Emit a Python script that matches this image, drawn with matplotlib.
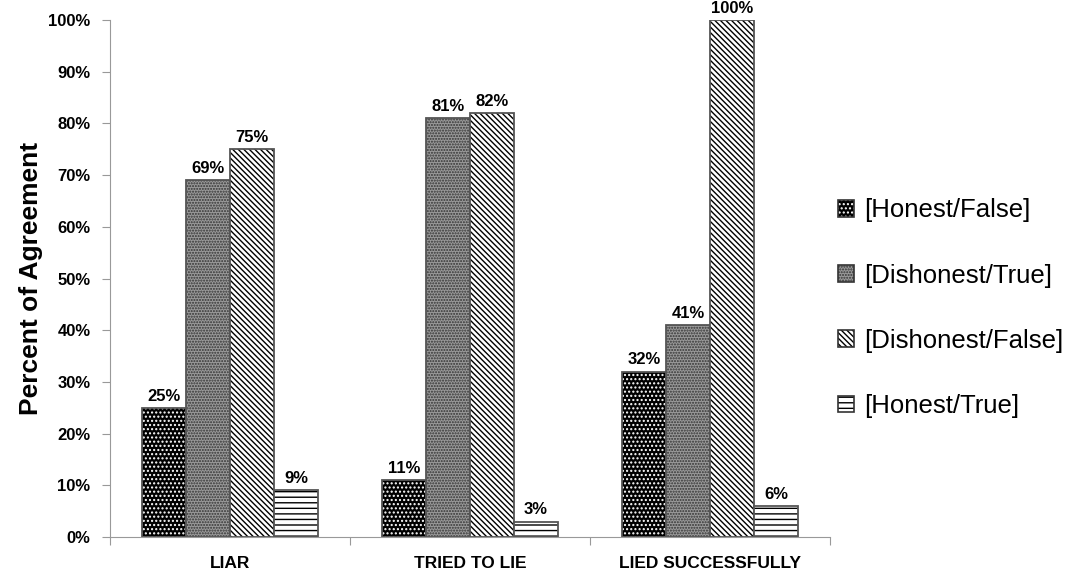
import matplotlib
matplotlib.use("Agg")
import matplotlib.pyplot as plt
import numpy as np
from matplotlib.patches import Patch
from matplotlib.legend_handler import HandlerTuple

# data
categories = ["LIAR", "TRIED TO LIE", "LIED SUCCESSFULLY"]
series = ["[Honest/False]", "[Dishonest/True]", "[Dishonest/False]", "[Honest/True]"]
honest_false = [25, 11, 32]
dishonest_true = [69, 81, 41]
dishonest_false = [75, 82, 100]
honest_true = [9, 3, 6]
values = [honest_false, dishonest_true, dishonest_false, honest_true]

# fill colour, hatch colour, hatch pattern for each series
styles = [
    ("black", "white", "...."),
    ("#9a9a9a", "#333333", "......"),
    ("white", "black", "\\" * 6),
    ("white", "black", "---"),
]

plt.rcParams["font.family"] = ["Liberation Sans", "DejaVu Sans"]
plt.rcParams["hatch.linewidth"] = 1.0

fig = plt.figure(figsize=(10.7, 5.77), dpi=100)
ax = fig.add_axes([0.1028, 0.0693, 0.6729, 0.8960])

width = 0.183
x = np.arange(len(categories)) + 0.5
for i, vals in enumerate(values):
    fc, hc, hatch = styles[i]
    pos = x + (i - 1.5) * width
    ax.bar(pos, vals, width, color=fc, edgecolor=hc, hatch=hatch, linewidth=0)
    ax.bar(pos, vals, width, fill=False, edgecolor="#555555", linewidth=1.3)
    for p, v in zip(pos, vals):
        ax.text(p, v + 0.8, f"{v}%", ha="center", va="bottom",
                fontsize=12, fontweight="bold")

ax.set_xlim(0, 3)
ax.set_ylim(0, 100)
ax.set_yticks(np.arange(0, 101, 10))
ax.set_yticklabels([f"{t}%" for t in range(0, 101, 10)], fontsize=12, fontweight="bold")
ax.set_xticks([0, 1, 2, 3])
ax.set_xticklabels([])
ax.set_xticks(x, minor=True)
ax.set_xticklabels(categories, minor=True, fontsize=12.5, fontweight="bold")
ax.tick_params(axis="x", which="minor", length=0, pad=14)
ax.tick_params(axis="x", which="major", length=6, color="#999999")
ax.tick_params(axis="y", length=6, color="#999999", pad=8)

for s in ["top", "right"]:
    ax.spines[s].set_visible(False)
for s in ["left", "bottom"]:
    ax.spines[s].set_color("#999999")

ax.set_ylabel("Percent of Agreement", fontsize=19, fontweight="bold", labelpad=4)

handles = []
for fc, hc, hatch in styles:
    handles.append((Patch(facecolor=fc, edgecolor=hc, hatch=hatch, linewidth=0),
                    Patch(fill=False, edgecolor="#333333", linewidth=1.2)))
leg = fig.legend(handles, series, loc="center left", bbox_to_anchor=(0.762, 0.466),
                 frameon=False, fontsize=18.5, handlelength=0.6, handleheight=0.6,
                 labelspacing=1.6, handletextpad=0.4,
                 handler_map={tuple: HandlerTuple(ndivide=1, pad=0)})

plt.savefig("out.png", dpi=100)
